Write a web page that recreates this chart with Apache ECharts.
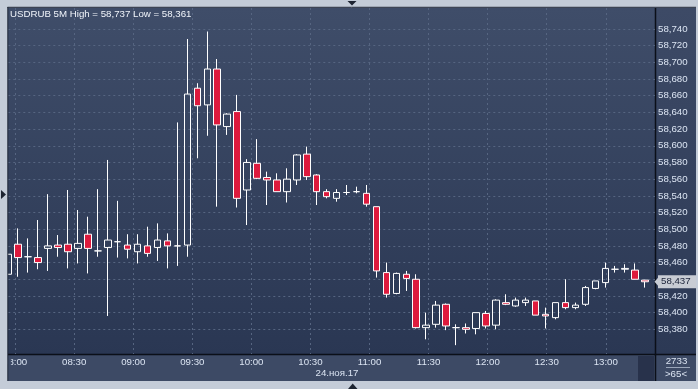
<!DOCTYPE html>
<html>
<head>
<meta charset="utf-8">
<script src="https://cdn.jsdelivr.net/npm/echarts@6/dist/echarts.min.js"></script>
<style>
html,body{margin:0;padding:0;background:#c4ccd8;}
#c{width:698px;height:389px;}
</style>
</head>
<body>
<div id="c"></div>
<script>
// ---- data ----
const times = ['08:00','08:05','08:10','08:15','08:20','08:25','08:30','08:35','08:40','08:45','08:50','08:55',
  '09:00','09:05','09:10','09:15','09:20','09:25','09:30','09:35','09:40','09:45','09:50','09:55',
  '10:00','10:05','10:10','10:15','10:20','10:25','10:30','10:35','10:40','10:45','10:50','10:55',
  '11:00','11:05','11:10','11:15','11:20','11:25','11:30','11:35','11:40','11:45','11:50','11:55',
  '12:00','12:05','12:10','12:15','12:20','12:25','12:30','12:35','12:40','12:45','12:50','12:55',
  '13:00','13:05','13:10','13:15','13:20','13:25'];
const opens  = [58446,58482,58467,58466,58477,58481,58482,58477,58494,58474,58478,58485,
  58481,58473,58480,58478,58486,58480,58481,58669,58649,58692,58623,58641,
  58547,58579,58562,58559,58545,58559,58590,58565,58545,58537,58544,58545,
  58543,58527,58448,58423,58446,58440,58382,58386,58410,58382,58382,58381,
  58399,58385,58412,58408,58412,58414,58398,58394,58412,58406,58410,58429,
  58436,58452,58452,58451,58439];
const closes = [58470,58466,58467,58460,58480,58478,58473,58483,58477,58474,58487,58485,
  58476,58482,58471,58487,58480,58480,58662,58648,58692,58625,58638,58537,
  58580,58561,58559,58545,58560,58589,58563,58545,58539,58544,58544,58545,
  58530,58450,58422,58447,58441,58382,58385,58409,58384,58382,58380,58400,
  58384,58415,58410,58415,58415,58397,58396,58412,58406,58409,58430,58438,
  58453,58452,58453,58440,58437];
const lows   = [58446,58443,58448,58452,58450,58467,58453,58459,58447,58467,58396,58466,
  58465,58459,58467,58462,58453,58456,58467,58585,58612,58527,58613,58526,
  58505,58560,58529,58545,58532,58553,58559,58529,58537,58533,58541,58543,
  58527,58442,58418,58422,58426,58381,58368,58382,58379,58361,58375,58374,
  58381,58380,58409,58407,58408,58397,58381,58392,58404,58404,58408,58428,
  58430,58448,58448,58440,58430];
const highs  = [58470,58501,58489,58511,58542,58493,58547,58523,58515,58548,58583,58534,
  58494,58494,58503,58507,58495,58628,58728,58675,58737,58704,58639,58661,
  58584,58608,58569,58567,58573,58590,58599,58566,58548,58548,58553,58551,
  58553,58527,58460,58448,58450,58446,58400,58414,58411,58386,58387,58400,
  58402,58416,58422,58418,58418,58414,58406,58412,58440,58412,58432,58438,
  58460,58456,58458,58459,58439];
const yMin = 58360, yMax = 58760, yStep = 20;
const dateLabel = '24.ноя.17';
const barsTotal = 2733;

// ---- build ----
const fmt = v => String(Math.round(v)).replace(/\B(?=(\d{3})+(?!\d))/g, ',');
const candles = opens.map((o, i) => [o, closes[i], lows[i], highs[i]]);
const hi = Math.max(...highs), lo = Math.min(...lows);
const lastPrice = closes[closes.length - 1];
const FONT = '"Liberation Sans", Arial, sans-serif';
const FS = 9.7;
const LBL = '#dbe4f2';
const GRID = '#566581';
const G = echarts.graphic;

const chart = echarts.init(document.getElementById('c'), null, {renderer: 'canvas'});
chart.setOption({
  animation: false,
  backgroundColor: '#c4ccd8',
  title: {
    text: 'USDRUB 5M High = ' + fmt(hi) + ' Low = ' + fmt(lo),
    left: 10, top: 9.5, padding: 0,
    textStyle: {color: '#f0f4fa', fontSize: FS, fontWeight: 'normal', fontFamily: FONT}
  },
  grid: [
    {left: 8.3, right: 43, top: 12.3, height: 333.7, show: false},
    {left: 8.3, right: 43, top: 8, bottom: 35, show: false}
  ],
  xAxis: [
    {type: 'category', gridIndex: 0, data: times, boundaryGap: false, show: false},
    {type: 'category', gridIndex: 1, data: times, boundaryGap: false, z: 1,
      axisLine: {show: false}, axisTick: {show: false, interval: i => i % 6 === 0},
      axisLabel: {interval: i => i % 6 === 0, margin: 3, color: LBL, fontSize: FS, fontFamily: FONT},
      splitLine: {show: true, interval: i => i % 6 === 0, lineStyle: {color: GRID, type: [2, 3], width: 1}}}
  ],
  yAxis: [
    {type: 'value', gridIndex: 0, position: 'right', min: yMin, max: yMax, interval: yStep,
      axisLine: {show: false}, axisTick: {show: false},
      axisLabel: {showMinLabel: false, showMaxLabel: false, margin: 3, formatter: v => fmt(v),
        color: LBL, fontSize: FS, fontFamily: FONT},
      splitLine: {show: true, showMinLine: false, showMaxLine: false,
        lineStyle: {color: GRID, type: [2, 3], width: 1}}},
    {type: 'value', gridIndex: 1, show: false}
  ],
  series: [{
    type: 'candlestick', xAxisIndex: 0, yAxisIndex: 0, data: candles,
    barWidth: 7, clip: true,
    itemStyle: {color: 'rgba(0,0,0,0)', color0: '#dd1a3d', borderColor: '#ffffff',
      borderColor0: '#ffffff', borderColorDoji: '#ffffff', borderWidth: 1}
  }, {
    type: 'line', xAxisIndex: 0, yAxisIndex: 0, data: [], clip: false, z: 5,
    markLine: {
      silent: true, symbol: ['none', 'none'], animation: false,
      lineStyle: {color: 'rgba(0,0,0,0)', width: 0, opacity: 1},
      data: [{yAxis: lastPrice}],
      label: {show: true, position: 'end', distance: 3, formatter: fmt(lastPrice), color: '#1a2238', opacity: 1,
        backgroundColor: '#c8ccd4', padding: [2, 9, 1, 3], fontSize: FS, fontFamily: FONT}
    },
    markPoint: {
      silent: true, animation: false,
      data: [{coord: [times[times.length - 1], lastPrice], symbol: 'triangle', symbolRotate: 90,
        symbolSize: [9, 4], symbolOffset: [1.5, 0], itemStyle: {color: '#c8ccd4'}, label: {show: false}}]
    }
  }],
  graphic: {
    z: 50,
    elements: [
    // backgrounds
    {type: 'rect', z: -10, shape: {x: 8, y: 8, width: 647, height: 346},
      style: {fill: new G.LinearGradient(0, 0, 0, 1, [{offset: 0, color: '#3f4d69'}, {offset: 1, color: '#2a3753'}])}},
    {type: 'rect', z: -10, shape: {x: 656, y: 8, width: 40, height: 346},
      style: {fill: new G.LinearGradient(0, 0, 0, 1, [{offset: 0, color: '#3d4a66'}, {offset: 1, color: '#2c3955'}])}},
    {type: 'rect', z: -10, shape: {x: 8, y: 355, width: 688, height: 26}, style: {fill: '#3d4a65'}},
    {type: 'rect', z: -10, shape: {x: 638, y: 356, width: 16, height: 25}, style: {fill: '#28324b'}},
    {type: 'line', z: -9, shape: {x1: 8, y1: 354.5, x2: 696, y2: 354.5}, style: {stroke: '#0b0f18', lineWidth: 1.5}},
    {type: 'line', z: -9, shape: {x1: 655.5, y1: 8, x2: 655.5, y2: 381}, style: {stroke: '#0b0f18', lineWidth: 1.5}},
    // overlay frame
    {type: 'rect', z: 100, shape: {x: 0, y: 0, width: 7.5, height: 389}, style: {fill: '#c4ccd8'}},
    {type: 'rect', z: 100, shape: {x: 8.3, y: 356, width: 2.6, height: 13}, style: {fill: '#3d4a65'}},
    {type: 'rect', z: 100, shape: {x: 0, y: 381, width: 698, height: 8}, style: {fill: '#c4ccd8'}},
    {type: 'rect', z: 100, shape: {x: 696, y: 0, width: 2, height: 389}, style: {fill: '#c4ccd8'}},
    {type: 'line', z: 100, shape: {x1: 7.8, y1: 7, x2: 7.8, y2: 381}, style: {stroke: '#1b2233', lineWidth: 1}},
    {type: 'line', z: 100, shape: {x1: 7.5, y1: 7.3, x2: 696, y2: 7.3}, style: {stroke: '#1b2233', lineWidth: 1}},
    {type: 'polygon', z: 100, shape: {points: [[347.5, 1], [356.5, 1], [352, 5.5]]}, style: {fill: '#1d2431'}},
    {type: 'polygon', z: 100, shape: {points: [[348, 389], [357.5, 389], [352.7, 383.5]]}, style: {fill: '#1d2431'}},
    {type: 'polygon', z: 100, shape: {points: [[1, 190], [1, 199], [6, 194.5]]}, style: {fill: '#1d2431'}},
    // texts
    {type: 'text', z: 101, style: {text: dateLabel, x: 337, y: 373.7, align: 'center', verticalAlign: 'middle',
      fill: LBL, font: FS + 'px ' + FONT}},
    {type: 'text', z: 101, style: {text: String(barsTotal), x: 676.5, y: 361.7, align: 'center', verticalAlign: 'middle',
      fill: LBL, font: FS + 'px ' + FONT}},
    {type: 'line', z: 101, shape: {x1: 666, y1: 367.5, x2: 690, y2: 367.5}, style: {stroke: '#9aa6ba', lineWidth: 1}},
    {type: 'text', z: 101, style: {text: '>' + candles.length + '<', x: 676, y: 374, align: 'center', verticalAlign: 'middle',
      fill: LBL, font: FS + 'px ' + FONT}}
    ]
  }
});
</script>
</body>
</html>
